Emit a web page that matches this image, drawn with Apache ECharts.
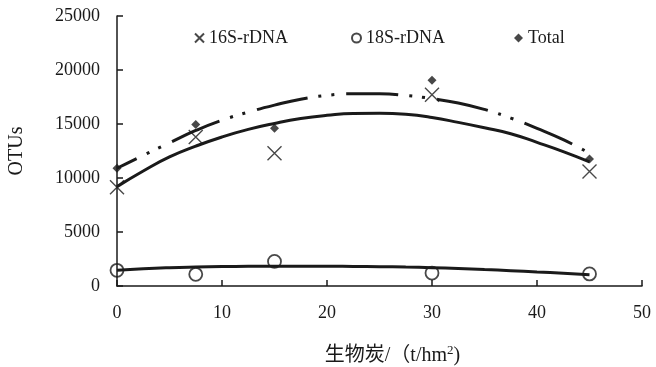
<!DOCTYPE html>
<html>
<head>
<meta charset="utf-8">
<script src="https://cdn.jsdelivr.net/npm/echarts@6/dist/echarts.min.js"></script>
<style>html,body{margin:0;padding:0;background:#fff}#c{width:656px;height:367px}</style>
</head>
<body>
<div id="c"></div>
<script>
// Observed points
var xValues = [0, 7.5, 15, 30, 45];
var s16 = [9150, 13800, 12300, 17700, 10600];
var s18 = [1450, 1080, 2280, 1200, 1120];
var total = [10900, 14950, 14600, 19050, 11750];

// Trend lines
var trendX = [0, 2.5, 5, 7.5, 10, 12.5, 15, 17.5, 20, 22.5, 25, 27.5, 30, 32.5, 35, 37.5, 40, 42.5, 45];
var trend16 = [9200, 10650, 11950, 12950, 13800, 14500, 15050, 15500, 15800, 15980, 16000, 15900, 15600, 15150, 14650, 14100, 13300, 12450, 11500];
var trendTotal = [10900, 12100, 13250, 14400, 15350, 16100, 16750, 17300, 17650, 17800, 17800, 17650, 17350, 16950, 16350, 15550, 14600, 13550, 12300];
var trend18 = [1450, 1600, 1700, 1760, 1800, 1820, 1830, 1830, 1830, 1810, 1790, 1750, 1700, 1620, 1520, 1420, 1300, 1180, 1050];

var names = ['16S-rDNA', '18S-rDNA', 'Total'];
var xTicks = [0, 10, 20, 30, 40, 50];
var yTicks = [0, 5000, 10000, 15000, 20000, 25000];

function pairs(xs, ys) { return xs.map(function (x, i) { return [x, ys[i]]; }); }

var ink = '#1a1a1a';
var serif = '"Liberation Serif", "Times New Roman", serif';
var crossPath = 'path://M0,0L10,10M0,10L10,0';

var chart = echarts.init(document.getElementById('c'), null, {renderer: 'canvas'});
var legendText = {fontFamily: serif, fontSize: 18, color: ink};
chart.setOption({
  animation: false,
  backgroundColor: '#fff',
  grid: {left: 117, right: 14, top: 16, bottom: 81, containLabel: false, outerBoundsMode: 'none'},
  legend: [
    {left: 189, top: 24, itemWidth: 9, itemHeight: 9, textStyle: legendText,
     data: [{name: names[0], icon: crossPath, itemStyle: {color: 'transparent', borderColor: ink, borderWidth: 2}}]},
    {left: 346, top: 24, itemWidth: 9, itemHeight: 9, textStyle: legendText,
     data: [{name: names[1], icon: 'circle', itemStyle: {color: '#fff', borderColor: ink, borderWidth: 2}}]},
    {left: 509, top: 24, itemWidth: 9, itemHeight: 9, textStyle: legendText,
     data: [{name: names[2], icon: 'diamond', itemStyle: {color: ink, borderWidth: 0}}]}
  ],
  xAxis: {
    type: 'value', min: xTicks[0], max: xTicks[xTicks.length - 1], interval: 10,
    name: '生物炭/（t/hm{sup|2})',
    nameLocation: 'middle', nameGap: 58,
    nameTextStyle: {fontFamily: serif + ', "Noto Sans CJK SC"', fontSize: 20, color: ink, padding: [0, 0, 0, 26],
      rich: {sup: {fontFamily: serif, fontSize: 13, color: ink, verticalAlign: 'top', padding: [0, 0, 10, 0]}}},
    axisLine: {show: true, lineStyle: {color: ink, width: 1.5}},
    axisTick: {show: true, inside: true, length: 6, lineStyle: {color: ink, width: 1.5}},
    axisLabel: {fontFamily: serif, fontSize: 18, color: ink, margin: 18},
    splitLine: {show: false}
  },
  yAxis: {
    type: 'value', min: yTicks[0], max: yTicks[yTicks.length - 1], interval: 5000,
    name: 'OTUs', nameLocation: 'middle', nameGap: 90,
    nameTextStyle: {fontFamily: serif, fontSize: 20, color: ink},
    axisLine: {show: true, lineStyle: {color: ink, width: 1.5}},
    axisTick: {show: true, inside: true, length: 6, lineStyle: {color: ink, width: 1.5}},
    axisLabel: {fontFamily: serif, fontSize: 18, color: ink, margin: 17,
      formatter: function (v) { return String(v); }},
    splitLine: {show: false}
  },
  series: [
    {name: '16S-trend', type: 'line', data: pairs(trendX, trend16), smooth: true, showSymbol: false, symbol: 'none',
     lineStyle: {color: ink, width: 3}, z: 2, silent: true},
    {name: 'Total-trend', type: 'line', data: pairs(trendX, trendTotal), smooth: true, showSymbol: false, symbol: 'none',
     lineStyle: {color: ink, width: 3, type: [52, 11, 3, 10, 3, 12], dashOffset: 30, cap: 'butt'}, z: 2, silent: true},
    {name: '18S-trend', type: 'line', data: pairs(trendX, trend18), smooth: true, showSymbol: false, symbol: 'none',
     lineStyle: {color: ink, width: 3}, z: 2, silent: true},
    {name: names[0], type: 'scatter', data: pairs(xValues, s16), symbol: crossPath, symbolSize: 14,
     itemStyle: {color: 'transparent', borderColor: ink, borderWidth: 1.4}, z: 5},
    {name: names[1], type: 'scatter', data: pairs(xValues, s18), symbol: 'circle', symbolSize: 13,
     itemStyle: {color: 'rgba(255,255,255,0)', borderColor: ink, borderWidth: 1.8}, z: 5},
    {name: names[2], type: 'scatter', data: pairs(xValues, total), symbol: 'diamond', symbolSize: 9,
     itemStyle: {color: ink}, z: 5}
  ]
});
</script>
</body>
</html>
